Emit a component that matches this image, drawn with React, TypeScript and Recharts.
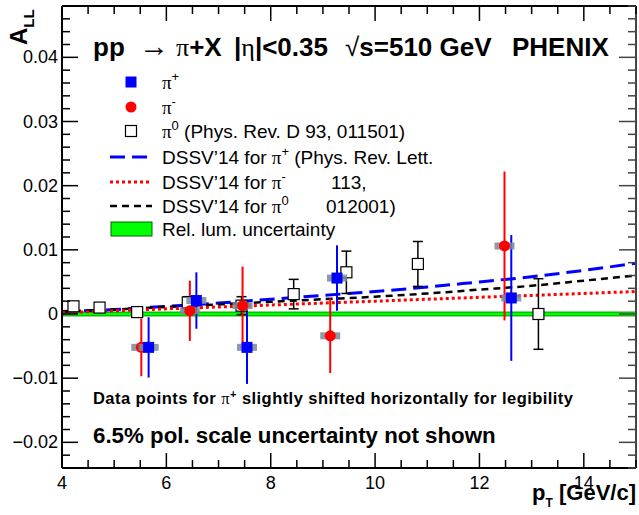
import React from 'react';
import { ComposedChart, Line, Scatter, ErrorBar, XAxis, YAxis, ReferenceArea } from 'recharts';

const FONT = '"Liberation Sans", Arial, Helvetica, sans-serif';
const SERIF = '"Liberation Serif", "Times New Roman", serif';

// pi+ (shifted right for legibility)
const piPlusX = [5.66, 6.575, 7.545, 9.27, 12.61];
const piPlusY = [-0.0052, 0.0021, -0.0052, 0.0056, 0.0025];
const piPlusErr = [0.0047, 0.0044, 0.0057, 0.0051, 0.0098];

// pi-
const piMinusX = [5.52, 6.45, 7.46, 9.14, 12.48];
const piMinusY = [-0.0052, 0.0005, 0.0013, -0.0034, 0.0106];
const piMinusErr = [0.0045, 0.0047, 0.0061, 0.0058, 0.0116];

// pi0 (Phys. Rev. D 93, 011501)
const piZeroX = [4.22, 4.72, 5.44, 6.41, 7.44, 8.44, 9.45, 10.82, 13.13];
const piZeroY = [0.0012, 0.001, 0.0003, 0.0018, 0.0013, 0.0031, 0.0065, 0.0078, 0.0];
const piZeroErr = [0.0003, 0.0006, 0.0005, 0.0009, 0.0014, 0.0023, 0.0033, 0.0035, 0.0055];

// DSSV'14 curves
const theoryX = [4, 5, 6, 7, 8, 9, 10, 11, 12, 13, 14, 15];
const dssvPlus = [0.0004, 0.0007, 0.0012, 0.0017, 0.0023, 0.0029, 0.0035, 0.0042, 0.005, 0.0058, 0.0068, 0.0079];
const dssvMinus = [0.0002, 0.0005, 0.0008, 0.0011, 0.0014, 0.0017, 0.002, 0.0023, 0.0026, 0.0029, 0.0032, 0.0035];
const dssvZero = [0.0004, 0.0007, 0.0011, 0.0015, 0.0019, 0.0023, 0.0027, 0.0032, 0.0038, 0.0044, 0.0052, 0.006];

const relLum = [-0.0003, 0.0003];

const xTicks = [4, 4.5, 5, 5.5, 6, 6.5, 7, 7.5, 8, 8.5, 9, 9.5, 10, 10.5, 11, 11.5, 12, 12.5, 13, 13.5, 14, 14.5, 15];
const xMajorTicks = [4, 6, 8, 10, 12, 14];
const xMajorLabels = ['4', '6', '8', '10', '12', '14'];
const yTicks = [
  -0.024, -0.022, -0.02, -0.018, -0.016, -0.014, -0.012, -0.01, -0.008, -0.006, -0.004, -0.002,
  0, 0.002, 0.004, 0.006, 0.008, 0.01, 0.012, 0.014, 0.016, 0.018, 0.02, 0.022, 0.024,
  0.026, 0.028, 0.03, 0.032, 0.034, 0.036, 0.038, 0.04, 0.042, 0.044, 0.046, 0.048,
];
const yMajorTicks = [-0.02, -0.01, 0, 0.01, 0.02, 0.03, 0.04];
const yMajorLabels = ['\u22120.02', '\u22120.01', '0', '0.01', '0.02', '0.03', '0.04'];

const toPoints = (xs: number[], ys: number[], errs?: number[]) =>
  xs.map((x, i) => ({ x, y: ys[i], err: errs ? errs[i] : 0 }));

const plusData = toPoints(piPlusX, piPlusY, piPlusErr);
const minusData = toPoints(piMinusX, piMinusY, piMinusErr);
const zeroData = toPoints(piZeroX, piZeroY, piZeroErr);
const plusCurve = toPoints(theoryX, dssvPlus);
const minusCurve = toPoints(theoryX, dssvMinus);
const zeroCurve = toPoints(theoryX, dssvZero);

const majorIndex = (v: number, majors: number[]) => majors.findIndex((m) => Math.abs(m - v) < 1e-9);

function BottomTick(props: any) {
  const { x, y, payload } = props;
  const i = majorIndex(payload.value, xMajorTicks);
  const len = i >= 0 ? 15 : 8;
  return (
    <g>
      <line x1={x} x2={x} y1={y} y2={y - len} stroke="#000" strokeWidth={1.5} />
      {i >= 0 && (
        <text x={x} y={y + 21} textAnchor="middle" fontFamily={FONT} fontSize={18} fill="#000">
          {xMajorLabels[i]}
        </text>
      )}
    </g>
  );
}

function TopTick(props: any) {
  const { x, y, payload } = props;
  const len = majorIndex(payload.value, xMajorTicks) >= 0 ? 15 : 8;
  return <line x1={x} x2={x} y1={y} y2={y + len} stroke="#000" strokeWidth={1.5} />;
}

function LeftTick(props: any) {
  const { x, y, payload } = props;
  const i = majorIndex(payload.value, yMajorTicks);
  const len = i >= 0 ? 16 : 8;
  return (
    <g>
      <line x1={x} x2={x + len} y1={y} y2={y} stroke="#000" strokeWidth={1.5} />
      {i >= 0 && (
        <text x={x - 4} y={y + 6} textAnchor="end" fontFamily={FONT} fontSize={18} fill="#000">
          {yMajorLabels[i]}
        </text>
      )}
    </g>
  );
}

function RightTick(props: any) {
  const { x, y, payload } = props;
  const len = majorIndex(payload.value, yMajorTicks) >= 0 ? 17 : 8;
  return <line x1={x} x2={x - len} y1={y} y2={y} stroke="#444" strokeWidth={1.5} />;
}

const SquareMark = (props: any) => {
  const { cx, cy } = props;
  if (cx == null || cy == null) return <g />;
  return (
    <g>
      <rect x={cx - 10} y={cy - 3.5} width={20} height={7} fill="#7a8a97" opacity={0.85} />
      <rect x={cx - 5.5} y={cy - 5.5} width={11} height={11} fill="#0000ff" />
    </g>
  );
};

const CircleMark = (props: any) => {
  const { cx, cy } = props;
  if (cx == null || cy == null) return <g />;
  return (
    <g>
      <rect x={cx - 10} y={cy - 3.5} width={20} height={7} fill="#7a8a97" opacity={0.85} />
      <circle cx={cx} cy={cy} r={5.5} fill="#ff0000" />
    </g>
  );
};

const OpenSquareMark = (props: any) => {
  const { cx, cy } = props;
  if (cx == null || cy == null) return <g />;
  return <rect x={cx - 5.5} y={cy - 5.5} width={11} height={11} fill="#fff" stroke="#000" strokeWidth={1.2} />;
};

function Overlay() {
  const legendX = 162;
  const symX = 131;
  const sup = (s: string) => (
    <tspan dy={-8} fontSize={13}>
      {s}
    </tspan>
  );
  return (
    <svg width={639} height={515} style={{ position: 'absolute', left: 0, top: 0, pointerEvents: 'none' }}>
      {/* y title */}
      <text transform="translate(27,45) rotate(-90)" fontFamily={FONT} fontWeight="bold" fontSize={24} fill="#000">
        A<tspan dy={7} fontSize={15}>LL</tspan>
      </text>
      {/* x title */}
      <text x={636} y={500} textAnchor="end" fontFamily={FONT} fontWeight="bold" fontSize={22} fill="#000">
        p<tspan dy={7} fontSize={12}>T</tspan>
        <tspan dy={-7}> [GeV/c]</tspan>
      </text>

      {/* header */}
      <g fontFamily={FONT} fontWeight="bold" fontSize={26} fill="#000">
        <text x={93} y={56}>pp</text>
        <text x={139} y={56} fontWeight="normal" fontSize={30}>{'\u2192'}</text>
        <text x={176} y={56}>
          <tspan fontFamily={SERIF} fontWeight="normal">π</tspan>+X
        </text>
        <text x={234} y={56}>
          |<tspan fontFamily={SERIF} fontWeight="normal">η</tspan>|&lt;0.35
        </text>
        <text x={345} y={56}>
          <tspan fontWeight="normal">√</tspan>s=510 GeV
        </text>
        <text x={512} y={56}>PHENIX</text>
      </g>

      {/* legend */}
      <g fontFamily={FONT} fontSize={19} fill="#000">
        <rect x={symX - 5.5} y={82 - 5.5} width={11} height={11} fill="#0000ff" />
        <text x={legendX} y={89}>
          <tspan fontFamily={SERIF}>π</tspan>
          {sup('+')}
        </text>

        <circle cx={symX} cy={107} r={5.5} fill="#ff0000" />
        <text x={legendX} y={114}>
          <tspan fontFamily={SERIF}>π</tspan>
          {sup('-')}
        </text>

        <rect x={symX - 5.5} y={131 - 5.5} width={11} height={11} fill="#fff" stroke="#000" strokeWidth={1.2} />
        <text x={legendX} y={138}>
          <tspan fontFamily={SERIF}>π</tspan>
          {sup('0')}
          <tspan dy={8}> (Phys. Rev. D 93, 011501)</tspan>
        </text>

        <line x1={110} x2={152} y1={157} y2={157} stroke="#0000ff" strokeWidth={3} strokeDasharray="15 7" />
        <text x={legendX} y={164}>
          DSSV’14 for <tspan fontFamily={SERIF}>π</tspan>
          {sup('+')}
          <tspan dy={8}> (Phys. Rev. Lett.</tspan>
        </text>

        <line x1={110} x2={152} y1={182} y2={182} stroke="#ff0000" strokeWidth={3} strokeDasharray="3 3" />
        <text x={legendX} y={189}>
          DSSV’14 for <tspan fontFamily={SERIF}>π</tspan>
          {sup('-')}
        </text>
        <text x={331} y={189}>113,</text>

        <line x1={110} x2={152} y1={206} y2={206} stroke="#000" strokeWidth={2.5} strokeDasharray="7 5" />
        <text x={legendX} y={213}>
          DSSV’14 for <tspan fontFamily={SERIF}>π</tspan>
          {sup('0')}
        </text>
        <text x={326} y={213}>012001)</text>

        <rect x={111} y={222} width={41} height={14} fill="#00ff00" stroke="#006600" strokeWidth={1} />
        <text x={legendX} y={236}>Rel. lum. uncertainty</text>
      </g>

      {/* notes */}
      <text x={93} y={404} fontFamily={FONT} fontWeight="bold" fontSize={16.5} fill="#000" textLength={480} lengthAdjust="spacing">
        Data points for <tspan fontFamily={SERIF} fontWeight="normal">π</tspan>
        <tspan dy={-6} fontSize={11}>+</tspan>
        <tspan dy={6}> slightly shifted horizontally for legibility</tspan>
      </text>
      <text x={93} y={443} fontFamily={FONT} fontWeight="bold" fontSize={22.3} fill="#000">
        6.5% pol. scale uncertainty not shown
      </text>
    </svg>
  );
}

export default function App() {
  return (
    <div style={{ position: 'absolute', left: 0, top: 0, width: 639, height: 515, background: '#fff' }}>
      <ComposedChart width={639} height={515} margin={{ top: 5, right: 2, bottom: 46, left: 61 }}>
        <XAxis
          xAxisId="bottom"
          type="number"
          dataKey="x"
          domain={[4, 15]}
          ticks={xTicks}
          interval={0}
          allowDataOverflow
          height={1}
          tickSize={0}
          tickMargin={0}
          tickLine={false}
          axisLine={{ stroke: '#000', strokeWidth: 2 }}
          tick={<BottomTick />}
        />
        <XAxis
          xAxisId="top"
          orientation="top"
          type="number"
          dataKey="x"
          domain={[4, 15]}
          ticks={xTicks}
          interval={0}
          allowDataOverflow
          height={1}
          tickSize={0}
          tickMargin={0}
          tickLine={false}
          axisLine={{ stroke: '#000', strokeWidth: 2 }}
          tick={<TopTick />}
        />
        <YAxis
          yAxisId="left"
          type="number"
          dataKey="y"
          domain={[-0.024, 0.048]}
          ticks={yTicks}
          interval={0}
          allowDataOverflow
          width={1}
          tickSize={0}
          tickMargin={0}
          tickLine={false}
          axisLine={{ stroke: '#000', strokeWidth: 2 }}
          tick={<LeftTick />}
        />
        <YAxis
          yAxisId="right"
          orientation="right"
          type="number"
          dataKey="y"
          domain={[-0.024, 0.048]}
          ticks={yTicks}
          interval={0}
          allowDataOverflow
          width={1}
          tickSize={0}
          tickMargin={0}
          tickLine={false}
          axisLine={{ stroke: '#444', strokeWidth: 2 }}
          tick={<RightTick />}
        />

        <ReferenceArea
          xAxisId="bottom"
          yAxisId="left"
          y1={relLum[0]}
          y2={relLum[1]}
          fill="#00ff00"
          fillOpacity={1}
          stroke="#009900"
          strokeWidth={1}
        />

        <Line xAxisId="bottom" yAxisId="left" data={plusCurve} dataKey="y" type="monotone" stroke="#0000ff" strokeWidth={3} strokeDasharray="15 7" dot={false} isAnimationActive={false} />
        <Line xAxisId="bottom" yAxisId="left" data={zeroCurve} dataKey="y" type="monotone" stroke="#000" strokeWidth={2.5} strokeDasharray="7 5" dot={false} isAnimationActive={false} />
        <Line xAxisId="bottom" yAxisId="left" data={minusCurve} dataKey="y" type="monotone" stroke="#ff0000" strokeWidth={3} strokeDasharray="3 3" dot={false} isAnimationActive={false} />

        <Scatter xAxisId="bottom" yAxisId="left" data={zeroData} dataKey="y" shape={OpenSquareMark} isAnimationActive={false}>
          <ErrorBar dataKey="err" direction="y" width={5} stroke="#000" strokeWidth={1.5} />
        </Scatter>
        <Scatter xAxisId="bottom" yAxisId="left" data={minusData} dataKey="y" shape={CircleMark} isAnimationActive={false}>
          <ErrorBar dataKey="err" direction="y" width={0} stroke="#ff0000" strokeWidth={2} />
        </Scatter>
        <Scatter xAxisId="bottom" yAxisId="left" data={plusData} dataKey="y" shape={SquareMark} isAnimationActive={false}>
          <ErrorBar dataKey="err" direction="y" width={0} stroke="#0000ff" strokeWidth={2} />
        </Scatter>
      </ComposedChart>
      <Overlay />
    </div>
  );
}
